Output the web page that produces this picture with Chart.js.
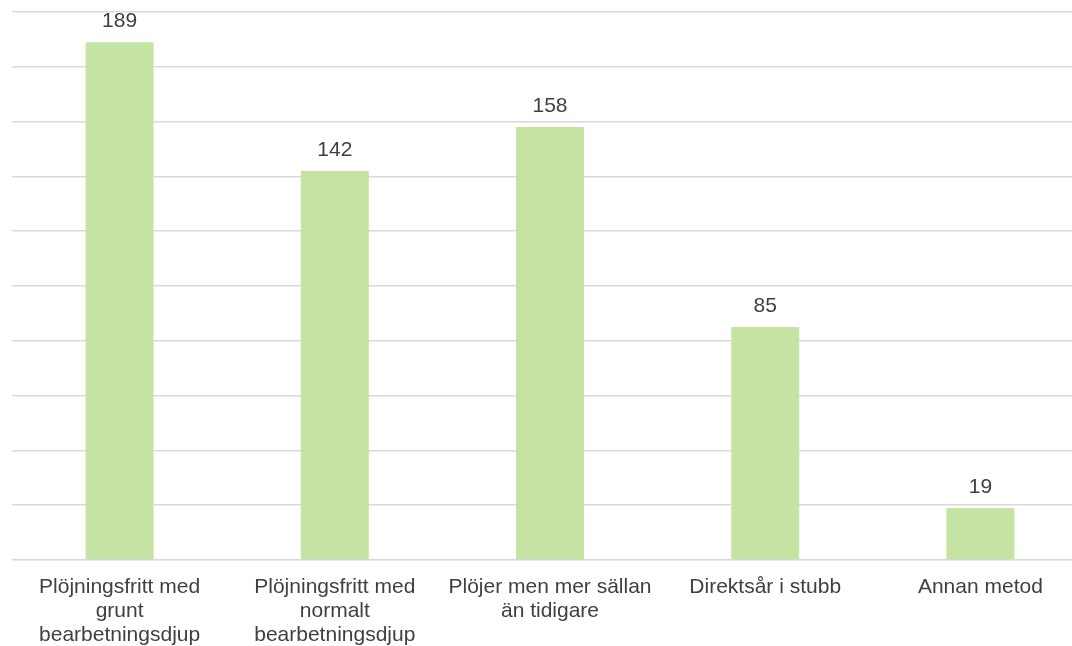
<!DOCTYPE html>
<html>
<head>
<meta charset="utf-8">
<script src="https://cdn.jsdelivr.net/npm/chart.js@4/dist/chart.umd.min.js"></script>
<style>
    html, body { margin: 0; padding: 0; background: #fff; overflow: hidden; }
    #wrap { width: 1088px; height: 646px; position: relative; }
</style>
</head>
<body>
<div id="wrap"><canvas id="barChart"></canvas></div>
<script>
// categories (multi-line as in the original axis)
const categories = [
    ['Plöjningsfritt med', 'grunt', 'bearbetningsdjup'],
    ['Plöjningsfritt med', 'normalt', 'bearbetningsdjup'],
    ['Plöjer men mer sällan', 'än tidigare'],
    ['Direktsår i stubb'],
    ['Annan metod']
];
const counts = [189, 142, 158, 85, 19];
const yMax = 200;
const yStep = 20;

// draws the value above each bar
const valueLabels = {
    id: 'valueLabels',
    afterDatasetsDraw(chart) {
        const ctx = chart.ctx;
        const meta = chart.getDatasetMeta(0);
        ctx.save();
        ctx.font = '21px "Liberation Sans", Arial, sans-serif';
        ctx.fillStyle = '#404040';
        ctx.textAlign = 'center';
        ctx.textBaseline = 'alphabetic';
        meta.data.forEach(function (bar, i) {
            ctx.fillText(counts[i], bar.x, bar.y - 15);
        });
        ctx.restore();
    }
};

const ctx = document.getElementById('barChart').getContext('2d');
new Chart(ctx, {
    type: 'bar',
    data: {
        labels: categories,
        datasets: [{
            data: counts,
            backgroundColor: '#C5E4A4',
            categoryPercentage: 1,
            barPercentage: 0.316
        }]
    },
    options: {
        responsive: true,
        maintainAspectRatio: false,
        animation: false,
        layout: { padding: { top: 12, left: 12, right: 0, bottom: 0 } },
        plugins: {
            legend: { display: false },
            tooltip: { enabled: false }
        },
        scales: {
            x: {
                grid: { display: false },
                border: { display: false },
                afterFit: function (scale) { scale.height = 86; },
                ticks: {
                    color: '#404040',
                    padding: 7,
                    maxRotation: 0,
                    autoSkip: false,
                    font: { family: '"Liberation Sans", Arial, sans-serif', size: 21, lineHeight: 1.15 }
                }
            },
            y: {
                min: 0,
                max: yMax,
                ticks: { display: false, stepSize: yStep },
                grid: { color: '#D9D9D9', lineWidth: 1.5, drawTicks: false },
                border: { display: false }
            }
        }
    },
    plugins: [valueLabels]
});
</script>
</body>
</html>
